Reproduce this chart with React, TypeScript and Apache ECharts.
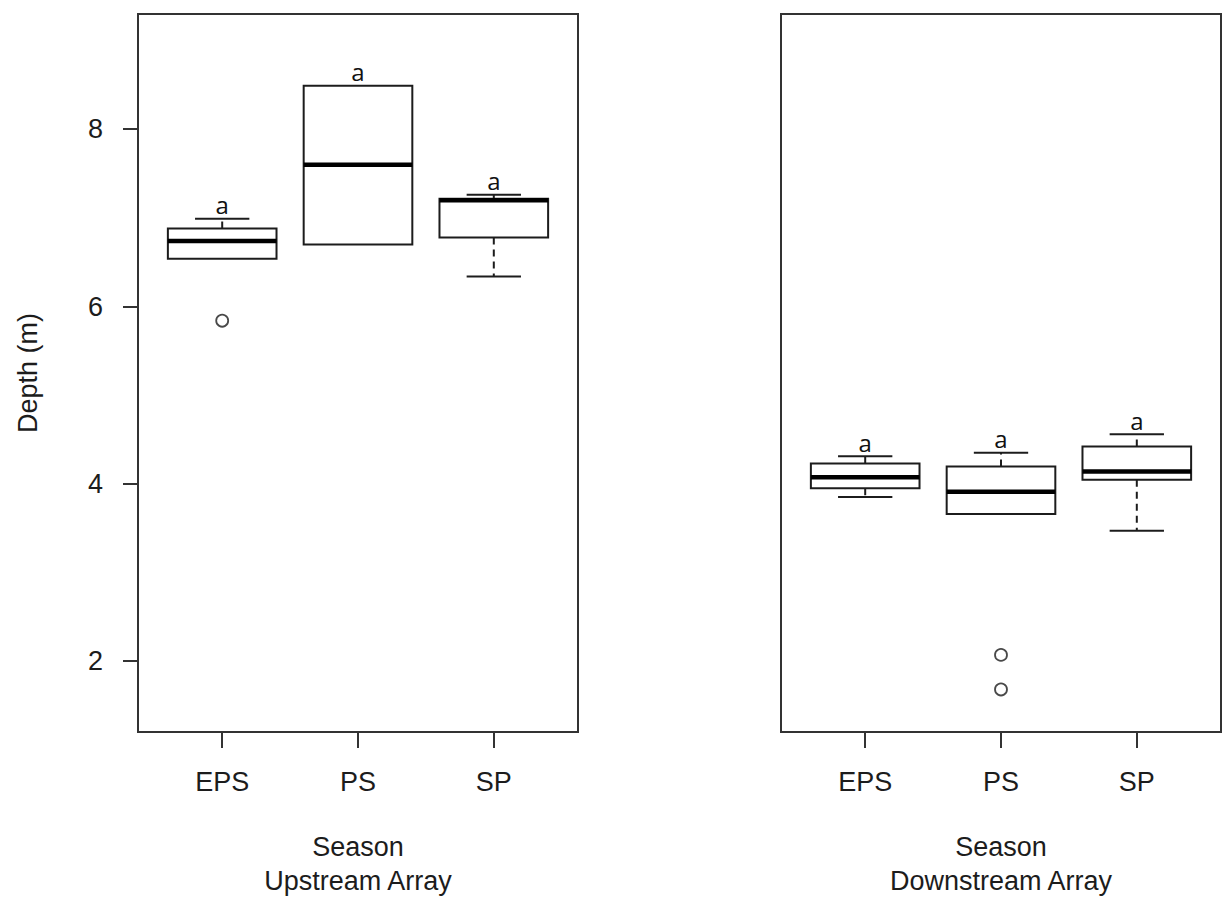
import React, { useEffect, useRef } from "react";
import * as echarts from "echarts";

// Seasons on the x axis of both panels
const seasons = ["EPS", "PS", "SP"];

// Box summaries per season: [lower whisker, Q1, median, Q3, upper whisker]
const upstreamBoxes = [
  [6.54, 6.54, 6.74, 6.88, 6.99],
  [6.7, 6.7, 7.6, 8.49, 8.49],
  [6.34, 6.78, 7.2, 7.215, 7.26],
];
const downstreamBoxes = [
  [3.85, 3.95, 4.075, 4.23, 4.31],
  [3.66, 3.66, 3.91, 4.195, 4.35],
  [3.47, 4.045, 4.14, 4.42, 4.56],
];

// Outlying points: [season position, depth]
const upstreamOutliers = [[1, 5.84]];
const downstreamOutliers = [
  [2, 2.07],
  [2, 1.68],
];

// Significance group letters above each box
const upstreamLetters = ["a", "a", "a"];
const downstreamLetters = ["a", "a", "a"];

const depthTicks = [2, 4, 6, 8];
const seasonTicks = [1, 2, 3];

const INK = "#1c1c1c";
const FRAME = "#333333";
const FONT = "'Liberation Sans', Arial, sans-serif";
const TEXT_SIZE = 27;
const BOX_WIDTH = 0.8;

function boxRenderer(letters: string[]) {
  return (params: any, api: any) => {
    const x = api.value(0);
    const lo = api.value(1);
    const q1 = api.value(2);
    const med = api.value(3);
    const q3 = api.value(4);
    const hi = api.value(5);
    const cx = api.coord([x, med])[0];
    const yLo = api.coord([x, lo])[1];
    const yQ1 = api.coord([x, q1])[1];
    const yMed = api.coord([x, med])[1];
    const yQ3 = api.coord([x, q3])[1];
    const yHi = api.coord([x, hi])[1];
    const halfW = api.size([BOX_WIDTH, 0])[0] / 2;
    const capHalf = halfW / 2;
    const children: any[] = [];
    const dashed = { stroke: INK, lineWidth: 2, lineDash: [7, 5] };
    const solid = { stroke: INK, lineWidth: 2 };
    if (hi > q3) {
      children.push({ type: "line", shape: { x1: cx, y1: yQ3, x2: cx, y2: yHi }, style: dashed });
      children.push({ type: "line", shape: { x1: cx - capHalf, y1: yHi, x2: cx + capHalf, y2: yHi }, style: solid });
    }
    if (lo < q1) {
      children.push({ type: "line", shape: { x1: cx, y1: yQ1, x2: cx, y2: yLo }, style: dashed });
      children.push({ type: "line", shape: { x1: cx - capHalf, y1: yLo, x2: cx + capHalf, y2: yLo }, style: solid });
    }
    children.push({
      type: "rect",
      shape: { x: cx - halfW, y: yQ3, width: halfW * 2, height: yQ1 - yQ3 },
      style: { fill: "none", stroke: INK, lineWidth: 2 },
    });
    children.push({
      type: "line",
      shape: { x1: cx - halfW, y1: yMed, x2: cx + halfW, y2: yMed },
      style: { stroke: "#000", lineWidth: 4.5 },
    });
    children.push({
      type: "text",
      x: cx,
      y: yHi - 2,
      style: {
        text: letters[params.dataIndex],
        fill: "#111",
        font: "24px 'Open Sans', 'Noto Sans', sans-serif",
        align: "center",
        verticalAlign: "bottom",
      },
    });
    return { type: "group", children };
  };
}

function xAxisFor(gridIndex: number, title: string) {
  return {
    gridIndex,
    type: "value",
    min: 0.38,
    max: 3.62,
    axisLine: { show: false },
    splitLine: { show: false },
    axisTick: { show: true, length: 16, customValues: seasonTicks, lineStyle: { color: FRAME, width: 2 } },
    axisLabel: {
      customValues: seasonTicks,
      formatter: (v: number) => seasons[Math.round(v) - 1] ?? "",
      fontSize: TEXT_SIZE,
      fontFamily: FONT,
      color: INK,
      margin: 36,
    },
    name: title,
    nameLocation: "middle",
    nameGap: 98,
    nameTextStyle: { fontSize: TEXT_SIZE, fontFamily: FONT, color: INK, lineHeight: 34 },
  };
}

export default function App() {
  const ref = useRef<HTMLDivElement>(null);

  useEffect(() => {
    if (!ref.current) return;
    const chart = echarts.init(ref.current, undefined, { renderer: "svg" });
    const gridBase = { top: 14, height: 723, width: 440, show: true, borderColor: FRAME, borderWidth: 2, containLabel: false };
    chart.setOption({
      animation: false,
      backgroundColor: "#fff",
      grid: [
        { ...gridBase, left: 138 },
        { ...gridBase, left: 781 },
      ],
      xAxis: [xAxisFor(0, "Season\nUpstream Array"), xAxisFor(1, "Season\nDownstream Array")],
      yAxis: [
        {
          gridIndex: 0,
          type: "value",
          min: 1.2,
          max: 9.3,
          axisLine: { show: false },
          splitLine: { show: false },
          axisTick: { show: true, length: 15, customValues: depthTicks, lineStyle: { color: FRAME, width: 2 } },
          axisLabel: { customValues: depthTicks, fontSize: TEXT_SIZE, fontFamily: FONT, color: INK, margin: 35 },
          name: "Depth (m)",
          nameLocation: "middle",
          nameGap: 97,
          nameTextStyle: { fontSize: TEXT_SIZE, fontFamily: FONT, color: INK },
        },
        {
          gridIndex: 1,
          type: "value",
          min: 1.2,
          max: 9.3,
          show: false,
          splitLine: { show: false },
        },
      ],
      series: [
        {
          type: "custom",
          xAxisIndex: 0,
          yAxisIndex: 0,
          renderItem: boxRenderer(upstreamLetters),
          encode: { x: 0, y: [1, 2, 3, 4, 5] },
          data: upstreamBoxes.map((b, i) => [i + 1, ...b]),
        },
        {
          type: "custom",
          xAxisIndex: 1,
          yAxisIndex: 1,
          renderItem: boxRenderer(downstreamLetters),
          encode: { x: 0, y: [1, 2, 3, 4, 5] },
          data: downstreamBoxes.map((b, i) => [i + 1, ...b]),
        },
        {
          type: "scatter",
          xAxisIndex: 0,
          yAxisIndex: 0,
          symbol: "circle",
          symbolSize: 12,
          itemStyle: { color: "#fff", borderColor: INK, borderWidth: 1.8 },
          data: upstreamOutliers,
        },
        {
          type: "scatter",
          xAxisIndex: 1,
          yAxisIndex: 1,
          symbol: "circle",
          symbolSize: 12,
          itemStyle: { color: "#fff", borderColor: INK, borderWidth: 1.8 },
          data: downstreamOutliers,
        },
      ],
    });
    return () => chart.dispose();
  }, []);

  return (
    <div
      ref={ref}
      style={{ position: "absolute", left: 0, top: 0, width: 1223, height: 903, background: "#fff" }}
    />
  );
}
